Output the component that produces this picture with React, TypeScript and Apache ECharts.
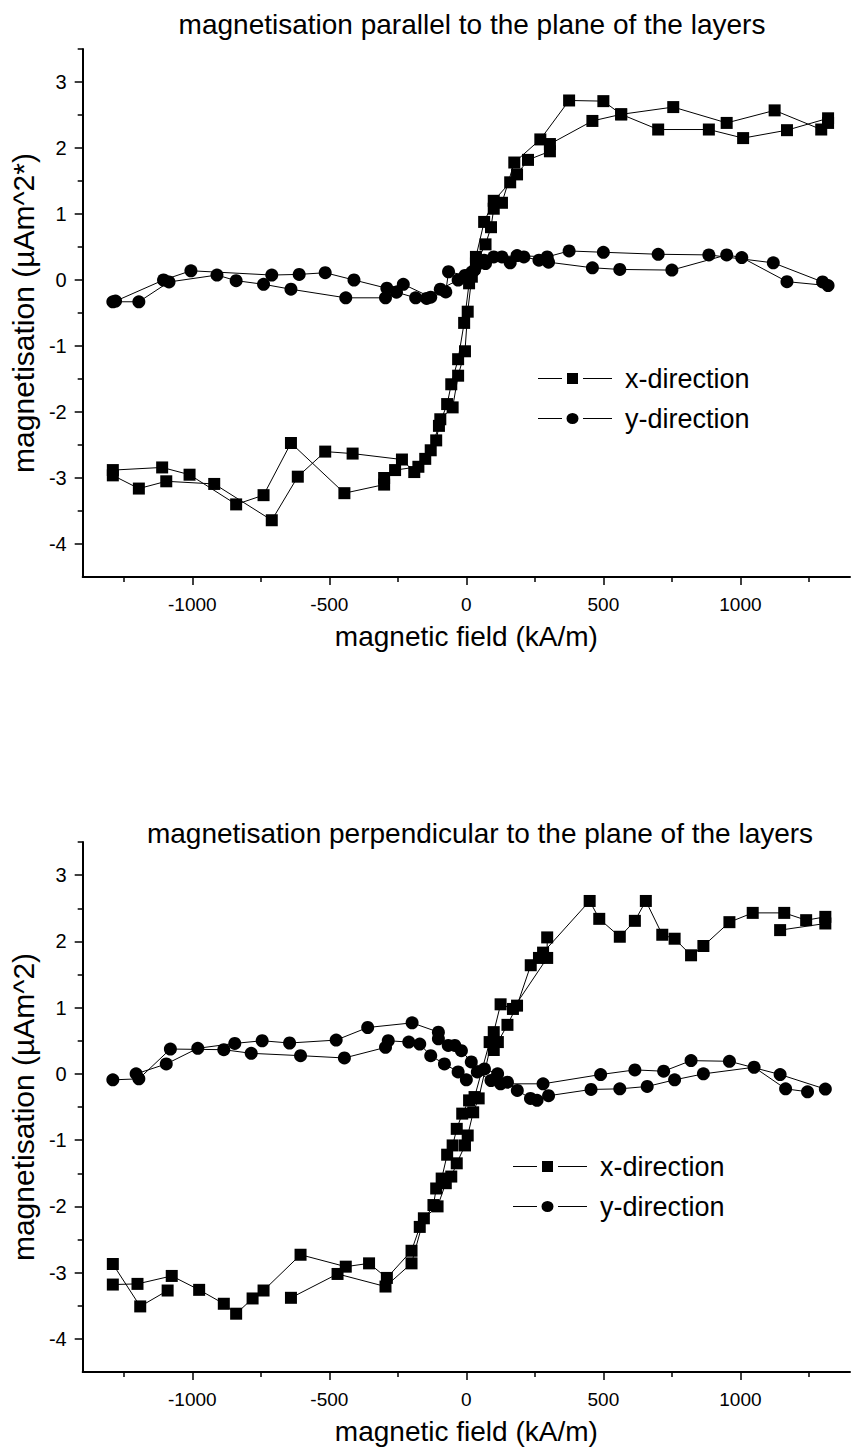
import React, { useEffect, useRef } from 'react';
import * as echarts from 'echarts';

const FONT = '"Liberation Sans", Arial, Helvetica, sans-serif';

// axis ticks
const fieldMajorTicks = [-1000, -500, 0, 500, 1000];
const fieldMinorTicks = [-1250, -750, -250, 250, 750, 1250];
const magMajorTicks = [-4, -3, -2, -1, 0, 1, 2, 3];
const magMinorTicks = [-3.5, -2.5, -1.5, -0.5, 0.5, 1.5, 2.5, 3.5];

const titleParallel = 'magnetisation parallel to the plane of the layers';
const titlePerpendicular = 'magnetisation perpendicular to the plane of the layers';
const xName = 'magnetic field (kA/m)';
const yNameParallel = 'magnetisation (µAm^2*)';
const yNamePerpendicular = 'magnetisation (µAm^2)';
const legendNames = ['x-direction', 'y-direction'];

// ---- parallel: x-direction
const parXUp = [
  [-1290, -2.96], [-1195, -3.16], [-1095, -3.05], [-920, -3.09], [-710, -3.64], [-615, -2.98],
  [-515, -2.6], [-415, -2.63], [-235, -2.72], [-190, -2.91], [-150, -2.71], [-110, -2.43],
  [-95, -2.11], [-50, -1.93], [-30, -1.45], [-5, -1.08], [5, -0.48], [20, 0.05], [35, 0.35],
  [65, 0.88], [100, 1.2], [160, 1.48], [185, 1.6], [225, 1.82], [305, 1.95], [305, 2.06],
  [460, 2.41], [565, 2.51], [700, 2.28], [885, 2.28], [1010, 2.15], [1170, 2.27], [1320, 2.45],
];
const parXDown = [
  [1320, 2.38], [1295, 2.28], [1125, 2.57], [950, 2.38], [755, 2.62], [565, 2.51], [500, 2.71],
  [375, 2.72], [270, 2.13], [175, 1.78], [130, 1.17], [100, 1.08], [90, 0.8], [70, 0.54],
  [35, 0.25], [10, -0.05], [-8, -0.65], [-30, -1.2], [-55, -1.58], [-70, -1.88], [-100, -2.21],
  [-130, -2.58], [-175, -2.83], [-260, -2.88], [-300, -3.0], [-300, -3.1], [-445, -3.23],
  [-640, -2.47], [-740, -3.26], [-840, -3.4], [-1010, -2.95], [-1110, -2.84], [-1290, -2.88],
];
// ---- parallel: y-direction
const parYUp = [
  [-1290, -0.33], [-1195, -0.33], [-1085, -0.03], [-910, 0.075], [-840, -0.01], [-740, -0.065],
  [-640, -0.14], [-440, -0.27], [-295, -0.27], [-255, -0.185], [-185, -0.27], [-145, -0.28],
  [-95, -0.14], [-30, 0.0], [0, 0.05], [30, 0.15], [65, 0.3], [100, 0.35], [160, 0.26],
  [210, 0.35], [265, 0.3], [300, 0.27], [460, 0.185], [560, 0.16], [750, 0.15], [950, 0.38],
  [1005, 0.34], [1170, -0.025], [1320, -0.085],
];
const parYDown = [
  [1300, -0.03], [1120, 0.26], [885, 0.38], [700, 0.39], [500, 0.42], [375, 0.44], [295, 0.35],
  [185, 0.37], [130, 0.35], [70, 0.25], [20, 0.12], [-5, 0.07], [-65, 0.125], [-75, -0.18],
  [-130, -0.26], [-230, -0.065], [-290, -0.125], [-410, 0.0], [-515, 0.11], [-610, 0.085],
  [-710, 0.075], [-1005, 0.14], [-1105, 0.0], [-1280, -0.32],
];

// ---- perpendicular: x-direction
const perXUp = [
  [-1290, -3.18], [-1200, -3.17], [-1075, -3.05], [-975, -3.26], [-885, -3.47], [-840, -3.62],
  [-780, -3.39], [-740, -3.27], [-605, -2.73], [-440, -2.91], [-355, -2.86], [-290, -3.08],
  [-200, -2.67], [-170, -2.31], [-120, -1.98], [-110, -1.73], [-90, -1.58], [-70, -1.22],
  [-50, -1.08], [-35, -0.83], [-15, -0.6], [10, -0.4], [30, -0.35], [85, 0.48], [100, 0.36],
  [115, 0.48], [150, 0.74], [185, 1.03], [235, 1.64], [265, 1.75], [280, 1.83], [450, 2.61],
  [485, 2.34], [560, 2.07], [615, 2.31], [655, 2.61], [715, 2.1], [760, 2.04], [820, 1.79],
  [865, 1.93], [960, 2.29], [1045, 2.43], [1160, 2.43], [1240, 2.32], [1310, 2.37],
];
const perXDownHigh = [[1310, 2.27], [1145, 2.17]];
const perXDownMid = [
  [295, 2.06], [295, 1.75], [170, 0.98], [125, 1.05], [100, 0.63], [45, -0.37], [25, -0.58],
  [5, -0.93], [-5, -1.08], [-35, -1.35], [-55, -1.55], [-75, -1.65], [-105, -2.0], [-155, -2.18],
  [-200, -2.86], [-295, -3.21], [-470, -3.02], [-640, -3.38],
];
const perXDownLow = [[-1090, -3.27], [-1190, -3.51], [-1290, -2.87]];

// ---- perpendicular: y-direction
const perYUp = [
  [-1290, -0.09], [-1195, -0.075], [-1080, 0.375], [-885, 0.365], [-785, 0.31], [-605, 0.275],
  [-445, 0.24], [-295, 0.4], [-285, 0.5], [-210, 0.48], [-170, 0.45], [-130, 0.275], [-80, 0.15],
  [-30, 0.03], [0, -0.09], [40, 0.03], [90, -0.1], [125, -0.15], [280, -0.15], [490, -0.01],
  [615, 0.06], [720, 0.04], [820, 0.2], [960, 0.19], [1145, -0.01], [1310, -0.23],
];
const perYDown = [
  [1245, -0.27], [1165, -0.226], [1050, 0.1], [865, 0.0], [760, -0.09], [660, -0.19],
  [560, -0.226], [455, -0.235], [300, -0.33], [258, -0.4], [234, -0.37], [186, -0.25],
  [150, -0.125], [114, 0.0], [66, 0.075], [18, 0.18], [-18, 0.35], [-42, 0.43], [-66, 0.43],
  [-102, 0.53], [-102, 0.63], [-198, 0.77], [-360, 0.7], [-475, 0.51], [-645, 0.466],
  [-745, 0.5], [-845, 0.46], [-980, 0.386], [-1095, 0.15], [-1205, 0.0],
];

const axisColor = '#000';

// legend icons: line – gap – symbol – gap – line
const squareIcon = 'path://M0,5.4h24v1.2h-24z M29,0.5h11v11h-11z M45,5.4h29v1.2h-29z';
const circleIcon = 'path://M0,5.4h24v1.2h-24z M40.5,6a6,5.5 0 1 1 -12,0a6,5.5 0 1 1 12,0z M45,5.4h29v1.2h-29z';

function mainX(grid: number) {
  return {
    type: 'value', gridIndex: grid, min: -1400, max: 1400, position: 'bottom',
    name: xName, nameLocation: 'middle', nameGap: 45,
    nameTextStyle: { fontSize: 28, fontFamily: FONT, color: '#000' },
    axisLine: { show: true, onZero: false, lineStyle: { color: axisColor, width: 2 } },
    axisTick: { show: true, customValues: fieldMajorTicks, length: 8, lineStyle: { color: axisColor, width: 1.5 } },
    axisLabel: { show: true, customValues: fieldMajorTicks, formatter: (v: number) => String(v), fontSize: 19, color: '#000', fontFamily: FONT, margin: 18 },
    splitLine: { show: false },
  };
}
function minorX(grid: number) {
  return {
    type: 'value', gridIndex: grid, min: -1400, max: 1400, position: 'bottom',
    axisLine: { show: false, onZero: false },
    axisTick: { show: true, customValues: fieldMinorTicks, length: 5, lineStyle: { color: axisColor, width: 1.5 } },
    axisLabel: { show: false },
    splitLine: { show: false },
  };
}
function mainY(grid: number, name: string) {
  return {
    type: 'value', gridIndex: grid, min: -4.5, max: 3.5, position: 'left',
    name, nameLocation: 'middle', nameGap: 36, nameRotate: 90,
    nameTextStyle: { fontSize: 30, fontFamily: FONT, color: '#000' },
    axisLine: { show: true, onZero: false, lineStyle: { color: axisColor, width: 2 } },
    axisTick: { show: true, customValues: magMajorTicks, length: 8, lineStyle: { color: axisColor, width: 1.5 } },
    axisLabel: { show: true, customValues: magMajorTicks, formatter: (v: number) => String(v), fontSize: 20, color: '#000', fontFamily: FONT, margin: 16 },
    splitLine: { show: false },
  };
}
function minorY(grid: number) {
  return {
    type: 'value', gridIndex: grid, min: -4.5, max: 3.5, position: 'left',
    axisLine: { show: false, onZero: false },
    axisTick: { show: true, customValues: magMinorTicks, length: 5, lineStyle: { color: axisColor, width: 1.5 } },
    axisLabel: { show: false },
    splitLine: { show: false },
  };
}

function line(name: string, symbol: string, data: number[][], axis: number) {
  return {
    type: 'line', name, data, xAxisIndex: axis, yAxisIndex: axis,
    symbol, symbolSize: symbol === 'rect' ? 12 : 13, showAllSymbol: true,
    lineStyle: { color: '#000', width: 1 },
    itemStyle: { color: '#000' },
    emphasis: { disabled: true },
    z: 3,
  };
}

function legendAt(left: number, top: number) {
  return {
    data: [
      { name: legendNames[0], icon: squareIcon },
      { name: legendNames[1], icon: circleIcon },
    ],
    orient: 'vertical', left, top,
    itemWidth: 74, itemHeight: 11, itemGap: 13, selectedMode: false,
    itemStyle: { color: '#000', borderWidth: 0 },
    textStyle: { fontSize: 27, color: '#000', fontFamily: FONT, padding: [0, 0, 0, 8] },
  };
}

export default function App() {
  const ref = useRef<HTMLDivElement>(null);
  useEffect(() => {
    if (!ref.current) return;
    const chart = echarts.init(ref.current, undefined, { renderer: 'svg' });
    chart.setOption({
      animation: false,
      backgroundColor: '#fff',
      textStyle: { fontFamily: FONT },
      grid: [
        { left: 78, top: 49, width: 772, height: 528 },
        { left: 78, top: 842, width: 772, height: 530 },
      ],
      xAxis: [mainX(0), minorX(0), mainX(1), minorX(1)],
      yAxis: [mainY(0, yNameParallel), minorY(0), mainY(1, yNamePerpendicular), minorY(1)],
      legend: [legendAt(533, 360), legendAt(508, 1148)],
      graphic: [
        { type: 'text', x: 472, y: 24, style: { text: titleParallel, fontSize: 28, fontFamily: FONT, fill: '#000', align: 'center', verticalAlign: 'middle', textAlign: 'center', textVerticalAlign: 'middle' } },
        { type: 'text', x: 480, y: 833, style: { text: titlePerpendicular, fontSize: 28, fontFamily: FONT, fill: '#000', align: 'center', verticalAlign: 'middle', textAlign: 'center', textVerticalAlign: 'middle' } },
      ],
      series: [
        line('x-direction', 'rect', parXUp, 0),
        line('x-direction', 'rect', parXDown, 0),
        line('y-direction', 'circle', parYUp, 0),
        line('y-direction', 'circle', parYDown, 0),
        line('x-direction', 'rect', perXUp, 2),
        line('x-direction', 'rect', perXDownHigh, 2),
        line('x-direction', 'rect', perXDownMid, 2),
        line('x-direction', 'rect', perXDownLow, 2),
        line('y-direction', 'circle', perYUp, 2),
        line('y-direction', 'circle', perYDown, 2),
      ],
    });
    return () => chart.dispose();
  }, []);
  return (
    <div
      ref={ref}
      style={{ position: 'absolute', left: 0, top: 0, width: 851, height: 1452, background: '#fff' }}
    />
  );
}
